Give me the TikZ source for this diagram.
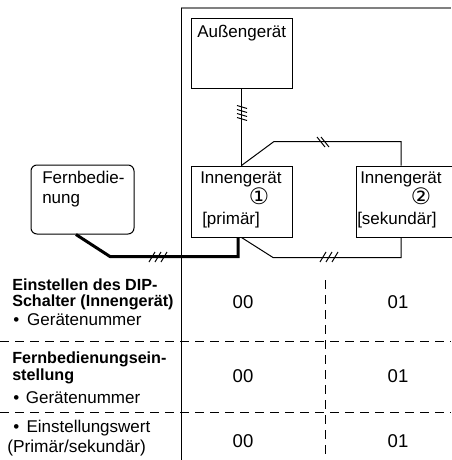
\documentclass[tikz,border=0pt]{standalone}
\usepackage{fontspec}
\setmainfont{Liberation Sans}
\newfontfamily\circfont{DejaVu Sans}

\begin{document}
\begin{tikzpicture}[x=0.75pt,y=0.75pt,yscale=-1,xscale=1,
  unit/.style={draw,line width=0.75,inner sep=0pt},
  txt/.style={anchor=base west,inner sep=0pt,font=\fontsize{12.75}{15}\selectfont},
  hd/.style={anchor=base west,inner sep=0pt,font=\fontsize{12.1}{14}\selectfont\bfseries},
  val/.style={anchor=base,inner sep=0pt,font=\fontsize{13.9}{16}\selectfont},
  wire/.style={line width=0.75},
  cell/.style={line width=0.75,dash pattern=on 6.75pt off 4.5pt}]
\useasboundingbox (0,0) rectangle (451,460);

%Shape: Frame
\draw [color=gray,line width=1.5] (181,8) -- (451,8);
\draw [line width=0.75] (181,8) -- (181,460);

%Shape: Rectangle
\node [unit,minimum width=75.75pt,minimum height=51.75pt] (ausen) at (241.5,53.5) {};
%Shape: Rectangle
\node [unit,minimum width=75.75pt,minimum height=53.25pt] (innen1) at (241.5,201.5) {};
%Shape: Rectangle
\node [unit,minimum width=72pt,minimum height=53.25pt] (innen2) at (404,201.5) {};
%Shape: Rounded Rect
\node [unit,rounded corners=4.5pt,minimum width=77.25pt,minimum height=51.75pt] (fern) at (82.5,199.5) {};

\coordinate (k2top) at ([xshift=-2.25pt]innen2.north);
\coordinate (k2bot) at ([xshift=-2.25pt]innen2.south);
\coordinate (k1bot) at ([xshift=-2.6pt]innen1.south);
\coordinate (fpin) at ([xshift=-4.9pt]fern.south);

%Straight Lines
\draw [wire] (ausen.south) -- (innen1.north);
\draw [wire] (innen1.north) -- ++(32.5,-24) -| (k2top);
\draw [wire] (innen1.south) -- ++(31.5,20) -| (k2bot);
\draw [line width=2.25] (fpin) -- ++(34,22) -| (k1bot);

% wire marks
\foreach \y in {107,111,115,119} \draw [wire] (237,\y-1.5) -- (247,\y+1.5);
\foreach \x in {321,325} \draw [wire] (\x-4,137) -- (\x+4,147);
\foreach \x in {323,329,335} \draw [wire] (\x-3,262) -- (\x+3,252);
\foreach \x in {152,158,164} \draw [wire] (\x-3,262) -- (\x+3,252);

% Table lines
\draw [cell] (0,341) -- (451,341);
\draw [cell] (0,412) -- (451,412);
\draw [cell] (325,280) -- (325,460);

% Text Node
\node [txt] (t-ausen) at (197,38) {Außengerät};
\node [txt] (t-in1) at (200,183) {Innengerät};
\node [txt,anchor=base,font=\fontsize{17}{17}\selectfont] (t-no1) at (259,204) {\circfont ①};
\node [txt] (t-prim) at (202,224) {[primär]};
\node [txt] (t-in2) at (360,183) {Innengerät};
\node [txt,anchor=base,font=\fontsize{17}{17}\selectfont] (t-no2) at (421,204) {\circfont ②};
\node [txt] (t-sek) at (357,224) {[sekundär]};
\node [txt] (t-fern1) at (42,183) {Fernbedie-};
\node [txt] (t-fern2) at (42,203) {nung};

% Text Node
\node [hd] (t-dip1) at (12,290) {Einstellen des DIP-};
\node [hd] (t-dip2) at (12,306) {Schalter (Innengerät)};
\node [txt] (t-dip3) at (13,325) {•\hspace{6pt}Gerätenummer};
\node [hd] (t-fb1) at (12,363) {Fernbedienungsein-};
\node [hd] (t-fb2) at (12,380) {stellung};
\node [txt] (t-fb3) at (13,403) {•\hspace{5pt}Gerätenummer};
\node [txt] (t-ew1) at (13,432) {•\hspace{5.5pt}Einstellungswert};
\node [txt,font=\fontsize{13}{14}\selectfont] (t-ew2) at (7,452) {(Primär/sekundär)};

% Text Node
\node [val] (v11) at (243,308) {00};
\node [val] (v12) at (398,308) {01};
\node [val] (v21) at (243,382) {00};
\node [val] (v22) at (398,382) {01};
\node [val] (v31) at (243,447) {00};
\node [val] (v32) at (398,447) {01};

\end{tikzpicture}
\end{document}
